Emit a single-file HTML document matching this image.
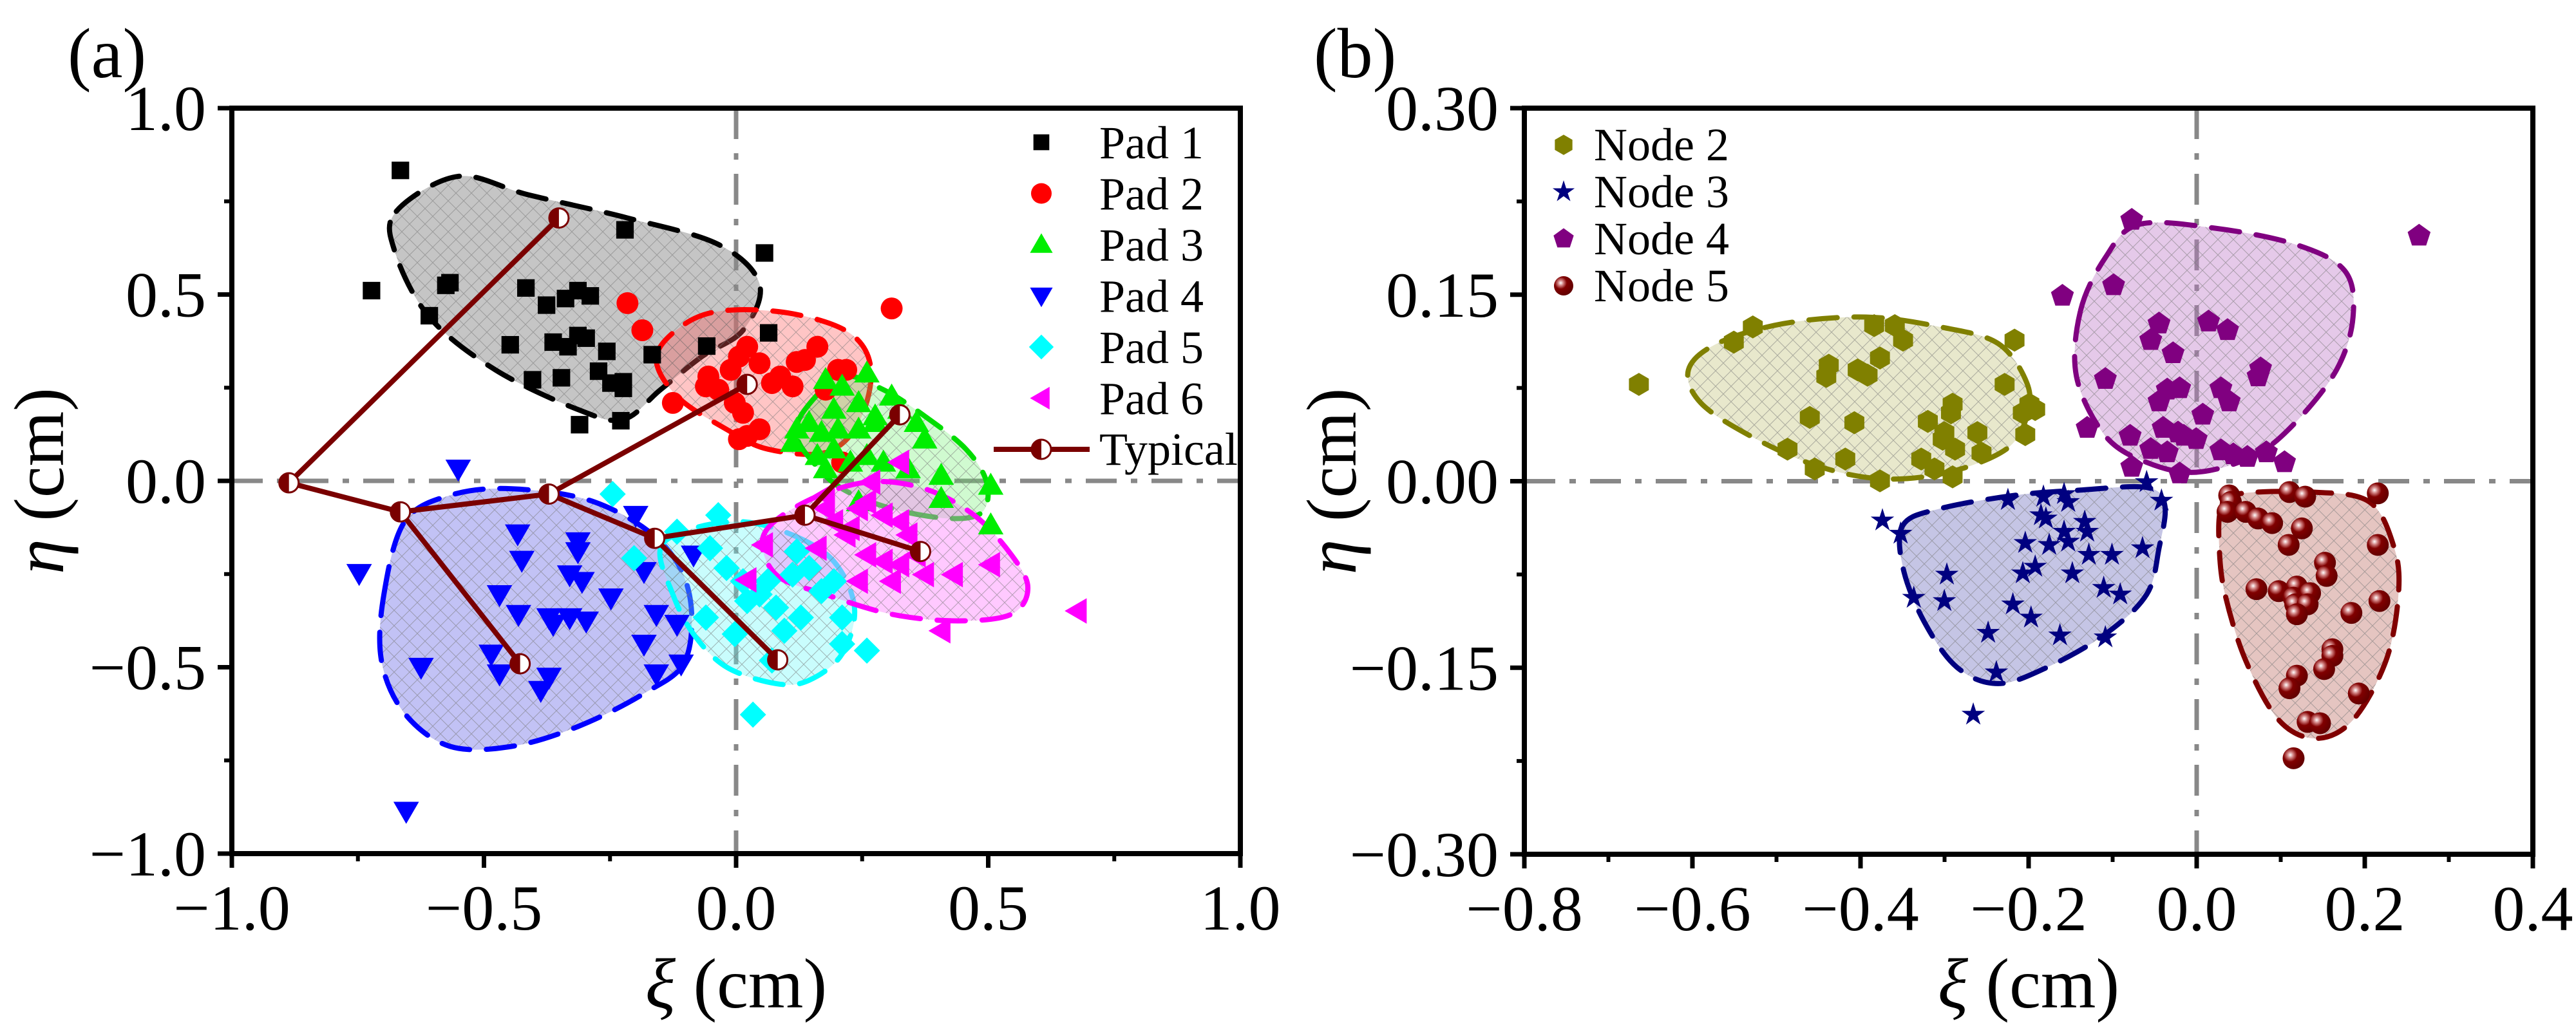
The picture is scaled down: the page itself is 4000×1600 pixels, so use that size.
<!DOCTYPE html>
<html><head><meta charset="utf-8"><style>
html,body{margin:0;padding:0;background:#fff}
svg{display:block}
text{font-family:"Liberation Serif","DejaVu Serif",serif;fill:#000}
</style></head><body>
<svg id="s" width="4000" height="1600" xmlns="http://www.w3.org/2000/svg" font-family="Liberation Serif, serif">
<defs>
<pattern id="h" width="24" height="24" patternUnits="userSpaceOnUse">
<path d="M0,0L24,24M24,0L0,24" stroke="#777" stroke-width="1" opacity="0.55"/>
</pattern>
<radialGradient id="sph" cx="0.35" cy="0.35" r="0.7">
<stop offset="0" stop-color="#fff"/><stop offset="0.2" stop-color="#d08080"/><stop offset="0.45" stop-color="#800000"/><stop offset="1" stop-color="#600000"/>
</radialGradient>
</defs>
<g id="g"></g>
<text x="105" y="120" font-size="110" font-family="Liberation Serif, serif">(a)</text>
<text x="2040" y="120" font-size="110" font-family="Liberation Serif, serif">(b)</text>
</svg>
<script>
var NS="http://www.w3.org/2000/svg",G=document.getElementById('g');
function el(t,a,p){var e=document.createElementNS(NS,t);for(var k in a)e.setAttribute(k,a[k]);(p||G).appendChild(e);return e;}
function tx(x,y,s,fs,anc,extra){var e=el('text',Object.assign({x:x,y:y,'font-size':fs,'text-anchor':anc||'start','font-family':'Liberation Serif, serif'},extra||{}));e.textContent=s;return e;}
function smooth(P){var n=P.length,d='M'+P[0][0]+','+P[0][1];for(var i=0;i<n;i++){var p0=P[(i-1+n)%n],p1=P[i],p2=P[(i+1)%n],p3=P[(i+2)%n];
d+='C'+(p1[0]+(p2[0]-p0[0])/6)+','+(p1[1]+(p2[1]-p0[1])/6)+' '+(p2[0]-(p3[0]-p1[0])/6)+','+(p2[1]-(p3[1]-p1[1])/6)+' '+p2[0]+','+p2[1];}return d+'Z';}
function mk(type,x,y,c,s){s=s||15;var pts;
if(type=='sq')return el('rect',{x:x-s*0.85,y:y-s*0.85,width:s*1.7,height:s*1.7,fill:c});
if(type=='ci')return el('circle',{cx:x,cy:y,r:s,fill:c});
if(type=='sp')return el('circle',{cx:x,cy:y,r:s,fill:'url(#sph)'});
if(type=='up')pts=[[0,-1.1],[1.1,0.8],[-1.1,0.8]];
if(type=='dn')pts=[[0,1.1],[1.1,-0.8],[-1.1,-0.8]];
if(type=='lf')pts=[[-1.1,0],[0.8,-1.1],[0.8,1.1]];
if(type=='di')pts=[[0,-1.2],[1.2,0],[0,1.2],[-1.2,0]];
if(type=='hx'){pts=[];for(var i=0;i<6;i++){var a=Math.PI/6+i*Math.PI/3;pts.push([Math.cos(a)*1.05,Math.sin(a)*1.05]);}}
if(type=='pt'){pts=[];for(var i=0;i<5;i++){var a=-Math.PI/2+i*2*Math.PI/5;pts.push([Math.cos(a)*1.1,Math.sin(a)*1.1]);}}
if(type=='st'){pts=[];for(var i=0;i<10;i++){var a=-Math.PI/2+i*Math.PI/5,r=i%2?0.45:1.2;pts.push([Math.cos(a)*r,Math.sin(a)*r]);}}
return el('polygon',{points:pts.map(function(p){return (x+p[0]*s)+','+(y+p[1]*s)}).join(' '),fill:c});}
function half(x,y){el('circle',{cx:x,cy:y,r:15,fill:'#fff',stroke:'#7a0000','stroke-width':3});el('path',{d:'M'+x+','+(y-15)+'A15,15 0 0 0 '+x+','+(y+15)+'Z',fill:'#7a0000'});}

function panel(L,R,T,B,xmin,xmax,ymin,ymax,xlabs,ylabs){
 var X=function(v){return L+(v-xmin)/(xmax-xmin)*(R-L)},Y=function(v){return B-(v-ymin)/(ymax-ymin)*(B-T)};
 return {L:L,R:R,T:T,B:B,X:X,Y:Y,xlabs:xlabs,ylabs:ylabs};}
function frame(p){
 el('line',{x1:p.X(0),y1:p.T,x2:p.X(0),y2:p.B,stroke:'#888','stroke-width':7,'stroke-dasharray':'48 22 10 22'});
 el('line',{x1:p.L,y1:p.Y(0),x2:p.R,y2:p.Y(0),stroke:'#888','stroke-width':7,'stroke-dasharray':'48 22 10 22'});
}
function axes(p){
 el('rect',{x:p.L,y:p.T,width:p.R-p.L,height:p.B-p.T,fill:'none',stroke:'#000','stroke-width':8});
 var nx=p.xlabs.length;
 for(var i=0;i<nx;i++){var x=p.L+i*(p.R-p.L)/(nx-1);el('line',{x1:x,y1:p.B,x2:x,y2:p.B+22,stroke:'#000','stroke-width':7});
  tx(x,p.B+118,p.xlabs[i],100,'middle');
  if(i<nx-1){var xm=x+(p.R-p.L)/(nx-1)/2;el('line',{x1:xm,y1:p.B,x2:xm,y2:p.B+12,stroke:'#000','stroke-width':6});}}
 var ny=p.ylabs.length;
 for(var i=0;i<ny;i++){var y=p.B-i*(p.B-p.T)/(ny-1);el('line',{x1:p.L,y1:y,x2:p.L-22,y2:y,stroke:'#000','stroke-width':7});
  tx(p.L-40,y+34,p.ylabs[i],100,'end');
  if(i<ny-1){var ym=y-(p.B-p.T)/(ny-1)/2;el('line',{x1:p.L,y1:ym,x2:p.L-12,y2:ym,stroke:'#000','stroke-width':6});}}
 var cx=(p.L+p.R)/2;
 var t=el('text',{x:cx,y:1565,'font-size':110,'text-anchor':'middle','font-family':'Liberation Serif, serif'});t.innerHTML='<tspan font-style="italic">ξ</tspan> (cm)';
 var cy=(p.T+p.B)/2,lx=p.L-262;
 var t2=el('text',{x:lx,y:cy,'font-size':110,'text-anchor':'middle','font-family':'Liberation Serif, serif',transform:'rotate(-90 '+lx+' '+cy+')'});t2.innerHTML='<tspan font-style="italic">η</tspan> (cm)';
}
function region(P,sx,sy,ox,fill,stroke){var Q=P.map(function(q){return [ox+q[0]*sx,q[1]*sy]});var d=smooth(Q);
 el('path',{d:d,fill:fill});el('path',{d:d,fill:'url(#h)'});el('path',{d:d,fill:'none',stroke:stroke,'stroke-width':8,'stroke-dasharray':'44 26','stroke-linecap':'round'});}
function pts(P,sx,sy,ox,type,c,s){P.forEach(function(q){mk(type,ox+q[0]*sx,q[1]*sy,c,s)});}

var A=panel(360,1926,168,1326,-1,1,-1,1,['\u22121.0','\u22120.5','0.0','0.5','1.0'],['\u22121.0','\u22120.5','0.0','0.5','1.0']);
var sx=1.282,sy=1.026;
frame(A);
region([[480,320],[555,267],[640,295],[760,330],[870,370],[920,430],[900,500],[850,540],[800,590],[755,635],[700,620],[600,560],[520,480],[478,380]],sx,sy,0,'rgba(140,140,140,0.5)','#000');
region([[795,540],[830,490],[880,470],[960,475],[1030,505],[1055,560],[1040,640],[1000,685],[930,680],[880,650],[820,600]],sx,sy,0,'rgba(255,90,90,0.35)','#f00');
region([[975,620],[1020,570],[1070,590],[1120,630],[1170,680],[1195,730],[1190,775],[1150,785],[1080,770],[1020,740],[985,700],[965,660]],sx,sy,0,'rgba(100,240,100,0.3)','#0d0');
region([[465,900],[490,790],[545,750],[620,740],[720,760],[800,820],[835,900],[830,1000],[780,1050],[700,1100],[620,1130],[545,1130],[490,1080],[462,1000]],sx,sy,0,'rgba(110,110,230,0.42)','#00f');
region([[800,830],[840,800],[900,790],[960,810],[1010,850],[1035,920],[1020,990],[980,1030],[940,1035],[880,1010],[840,960],[815,900]],sx,sy,0,'rgba(100,250,250,0.35)','#0ff');
region([[925,810],[975,760],[1050,730],[1120,740],[1180,780],[1225,840],[1245,890],[1225,930],[1160,940],[1080,930],[1000,900],[940,870]],sx,sy,0,'rgba(255,120,255,0.4)','#f0f');
pts([[485,258],[450,440],[545,428],[540,432],[520,478],[637,436],[662,462],[685,452],[700,440],[715,448],[618,522],[670,518],[688,525],[700,508],[710,512],[735,532],[645,575],[680,572],[725,562],[740,580],[755,578],[755,588],[702,643],[752,637],[790,537],[757,348],[926,383],[931,504],[856,524]],sx,sy,0,'sq','#000',16);
pts([[760,459],[778,500],[815,610],[858,570],[855,585],[870,590],[885,560],[895,540],[905,525],[920,550],[935,580],[945,570],[960,585],[965,548],[975,545],[990,525],[1015,560],[1025,560],[890,610],[900,625],[905,660],[920,650],[895,665],[1080,467],[1000,590],[1020,700]],sx,sy,0,'ci','#f00',17);
pts([[1000,575],[1020,585],[1050,565],[1080,600],[1010,620],[1040,610],[1060,630],[980,640],[965,650],[960,670],[995,655],[1015,650],[1040,650],[1060,640],[1090,620],[1110,640],[1120,665],[990,690],[1010,680],[1030,700],[1050,690],[1070,700],[1100,710],[1140,720],[1200,735],[1200,795],[1140,755],[1040,760],[1000,710]],sx,sy,0,'up','#0e0',18);
pts([[555,710],[435,868],[492,1228],[627,808],[632,848],[700,820],[700,835],[690,870],[705,880],[605,900],[628,930],[665,935],[670,945],[690,935],[710,940],[740,905],[770,780],[780,865],[780,975],[795,930],[820,945],[825,1005],[795,1020],[510,1010],[595,990],[605,1020],[665,1025],[655,1045],[840,840]],sx,sy,0,'dn','#00f',18);
pts([[742,748],[768,845],[820,805],[860,830],[870,780],[855,935],[880,860],[900,880],[920,900],[930,880],[905,910],[940,920],[950,955],[970,935],[980,860],[995,895],[1010,880],[1020,935],[1020,975],[1050,985],[912,1082],[965,835],[960,870],[890,960],[935,1000]],sx,sy,0,'di','#0ff',17);
pts([[905,878],[925,825],[990,830],[1000,770],[1010,790],[1030,800],[1040,770],[1050,760],[1070,780],[1090,790],[1100,810],[1050,840],[1070,850],[1090,855],[1110,840],[1040,880],[1080,880],[1120,870],[1155,870],[1200,855],[1305,925],[1140,955],[1090,700],[1055,730],[1000,750],[1025,810]],sx,sy,0,'lf','#f0f',18);
var T={a:[350,731],b:[677,330],c:[485,775],d:[665,748],e:[905,582],f:[630,1005],g:[793,815],h:[975,780],i:[1090,628],j:[942,999],k:[1115,835]};
var E=[['a','b'],['a','c'],['c','d'],['d','e'],['c','f'],['d','g'],['g','h'],['h','i'],['g','j'],['h','k']];
E.forEach(function(e){el('line',{x1:T[e[0]][0]*sx,y1:T[e[0]][1]*sy,x2:T[e[1]][0]*sx,y2:T[e[1]][1]*sy,stroke:'#7a0000','stroke-width':8});});
for(var k in T)half(T[k][0]*sx,T[k][1]*sy);
var LA=[['sq','#000','Pad 1'],['ci','#f00','Pad 2'],['up','#0e0','Pad 3'],['dn','#00f','Pad 4'],['di','#0ff','Pad 5'],['lf','#f0f','Pad 6']];
LA.forEach(function(l,i){var y=221+i*79.5;mk(l[0],1617,y,l[1],l[0]=='sq'?14.5:16);tx(1707,y+25,l[2],72);});
el('line',{x1:1543,y1:698,x2:1692,y2:698,stroke:'#7a0000','stroke-width':8});half(1617,698);tx(1707,722,'Typical',72);
axes(A);

var B=panel(2367,3933,168,1327,-0.8,0.4,-0.3,0.3,['\u22120.8','\u22120.6','\u22120.4','\u22120.2','0.0','0.2','0.4'],['\u22120.30','\u22120.15','0.00','0.15','0.30']);
frame(B);
var ox=2000;
region([[485,560],[520,520],[600,490],[700,480],[790,495],[860,520],[895,580],[895,630],[870,680],[800,715],[720,725],[640,705],[560,660],[500,610]],sx,sy,ox,'rgba(190,190,110,0.35)','#808000');
region([[960,470],[990,390],[1030,340],[1120,345],[1220,370],[1280,410],[1290,480],[1270,560],[1220,640],[1170,690],[1100,715],[1040,700],[990,660],[955,570]],sx,sy,ox,'rgba(190,120,200,0.4)','#800080');
region([[745,795],[790,770],[880,750],[960,742],[1040,738],[1062,765],[1055,830],[1040,900],[990,960],[920,1010],[860,1035],[810,1010],[770,940],[745,860]],sx,sy,ox,'rgba(110,110,190,0.4)','#000080');
region([[1130,770],[1150,748],[1240,745],[1310,760],[1340,830],[1345,900],[1330,1000],[1290,1090],[1245,1118],[1200,1090],[1160,1000],[1135,900],[1128,830]],sx,sy,ox,'rgba(190,110,100,0.4)','#800000');
pts([[425,582],[540,518],[563,495],[710,493],[735,493],[745,515],[717,542],[655,553],[652,570],[690,560],[702,568],[880,515],[868,582],[898,612],[890,625],[905,620],[632,632],[686,640],[775,638],[803,625],[805,612],[795,655],[835,655],[793,665],[808,680],[893,658],[840,686],[605,680],[675,695],[767,695],[783,710],[638,710],[717,728],[805,722]],sx,sy,ox,'hx','#808000',17);
pts([[720,788],[742,808],[872,757],[915,752],[940,748],[945,760],[912,780],[918,785],[965,790],[968,805],[940,805],[945,820],[893,822],[922,825],[970,840],[998,840],[1035,830],[1058,758],[1040,730],[798,870],[890,868],[905,858],[950,868],[988,890],[1008,900],[758,905],[795,910],[878,915],[900,935],[848,958],[935,962],[990,965],[858,1018],[830,1082]],sx,sy,ox,'st','#000080',16);
pts([[1022,333],[938,448],[1000,432],[1370,357],[1055,490],[1115,487],[1138,500],[1045,515],[1072,535],[990,574],[1178,558],[1175,570],[1065,590],[1080,588],[1130,588],[1055,608],[1140,608],[1108,628],[968,648],[1060,648],[1020,660],[1078,655],[1085,660],[1100,665],[1045,680],[1065,685],[1130,682],[1145,688],[1162,692],[1185,685],[1207,700],[1022,707],[1080,717]],sx,sy,ox,'pt','#800080',17);
pts([[1140,750],[1142,760],[1138,775],[1160,775],[1175,785],[1192,792],[1213,745],[1232,752],[1320,747],[1228,800],[1212,825],[1320,825],[1256,852],[1258,872],[1173,892],[1200,895],[1222,888],[1218,905],[1238,898],[1220,915],[1235,915],[1222,930],[1288,928],[1322,910],[1265,983],[1265,993],[1255,1013],[1222,1023],[1213,1042],[1297,1050],[1235,1093],[1250,1095],[1218,1148]],sx,sy,ox,'sp','#800000',17);
var LB=[['hx','#808000','Node 2'],['st','#000080','Node 3'],['pt','#800080','Node 4'],['sp','#800000','Node 5']];
LB.forEach(function(l,i){var y=225+i*73;mk(l[0],2428,y,l[1],15);tx(2475,y+24,l[2],72);});
axes(B);
</script>
</body></html>
